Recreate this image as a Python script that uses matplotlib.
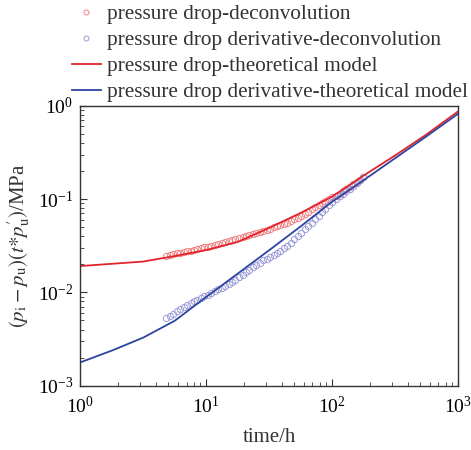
import matplotlib
matplotlib.use("Agg")
import matplotlib.pyplot as plt
from matplotlib.ticker import LogLocator, NullFormatter

plt.rcParams['font.family'] = ['Liberation Serif', 'DejaVu Serif']
plt.rcParams['mathtext.fontset'] = 'stix'

# deconvolution points (time in h, pressure in MPa)
t_dec = [4.83, 5.15, 5.48, 5.84, 6.22, 6.63, 7.06, 7.52, 8.02, 8.54,
         9.10, 9.69, 10.3, 11.0, 11.7, 12.5, 13.3, 14.2, 15.1, 16.1,
         17.1, 18.3, 19.5, 20.7, 22.1, 23.5, 25.1, 26.7, 28.4, 30.3,
         32.3, 34.4, 36.6, 39.0, 41.6, 44.3, 47.2, 50.3, 53.6, 57.1,
         60.8, 64.8, 69.0, 73.5, 78.3, 83.5, 88.9, 94.7, 101, 108,
         115, 122, 130, 139, 148, 157, 167, 178]
dp_dec = [0.02483, 0.02531, 0.02582, 0.02624, 0.02667, 0.02710, 0.02754, 0.02805, 0.02858, 0.02911,
          0.02972, 0.03027, 0.03083, 0.03141, 0.03221, 0.03304, 0.03388, 0.03473, 0.03565, 0.03656,
          0.03750, 0.03842, 0.03945, 0.04046, 0.04150, 0.04253, 0.04365, 0.04477, 0.04587, 0.04710,
          0.04831, 0.04955, 0.05093, 0.05260, 0.05425, 0.05598, 0.05813, 0.06039, 0.06270, 0.06546,
          0.06934, 0.07328, 0.07762, 0.08185, 0.08610, 0.09057, 0.09528, 0.09966, 0.1042, 0.1089,
          0.1143, 0.1211, 0.1282, 0.1355, 0.1435, 0.1521, 0.1610, 0.1702]
dd_dec = [0.005248, 0.005559, 0.005888, 0.006237, 0.006607, 0.006989, 0.007396, 0.007709, 0.008034, 0.008375,
          0.008726, 0.009095, 0.009475, 0.009874, 0.01031, 0.01078, 0.01126, 0.01178, 0.01240, 0.01303,
          0.01372, 0.01450, 0.01545, 0.01646, 0.01754, 0.01859, 0.01968, 0.02084, 0.02203, 0.02301,
          0.02405, 0.02515, 0.02645, 0.02801, 0.02966, 0.03140, 0.03397, 0.03690, 0.04006, 0.04348,
          0.04723, 0.05129, 0.05567, 0.06068, 0.06630, 0.07245, 0.07914, 0.08545, 0.09222, 0.09950,
          0.1069, 0.1139, 0.1213, 0.1293, 0.1383, 0.1483, 0.1590, 0.1704]

# theoretical model
t_mod = [1, 1.78, 3.16, 5.62, 10, 17.8, 31.6, 56.2, 100, 178, 316, 562, 1000]
dp_mod = [0.01914, 0.02023, 0.02138, 0.02449, 0.02838, 0.03467, 0.04898, 0.07079,
          0.1059, 0.1778, 0.2917, 0.4898, 0.8630]
dd_mod = [0.001778, 0.002377, 0.003273, 0.004955, 0.008913, 0.01585, 0.02818, 0.05070,
          0.09333, 0.1585, 0.2723, 0.4677, 0.8147]

fig = plt.figure(figsize=(4.71, 4.5), dpi=100)
ax = fig.add_axes([0.1705, 0.1429, 0.8013, 0.6222])

ax.plot(t_dec, dp_dec, 'o', ms=4.5, mfc='none', mec='#f08080', mew=0.7,
        label='pressure drop-deconvolution')
ax.plot(t_dec, dd_dec, 'o', ms=4.5, mfc='none', mec='#9a9ad8', mew=0.7,
        label='pressure drop derivative-deconvolution')
ax.plot(t_mod, dp_mod, '-', color='#e3232c', lw=1.3,
        label='pressure drop-theoretical model')
ax.plot(t_mod, dd_mod, '-', color='#2b44a0', lw=1.3,
        label='pressure drop derivative-theoretical model')

ax.set_xscale('log')
ax.set_yscale('log')
ax.set_xlim(1, 1000)
ax.set_ylim(1e-3, 1)
ax.xaxis.set_minor_locator(LogLocator(base=10, subs=range(2, 10), numticks=20))
ax.yaxis.set_minor_locator(LogLocator(base=10, subs=range(2, 10), numticks=20))
ax.xaxis.set_minor_formatter(NullFormatter())
ax.yaxis.set_minor_formatter(NullFormatter())
ax.tick_params(which='both', direction='in', top=False, right=False, labelsize=14, color='#333333')
ax.tick_params(which='major', length=5)
ax.tick_params(which='minor', length=3)
ax.tick_params(axis='x', which='major', pad=7)
ax.tick_params(axis='y', which='major', pad=5)
for s in ax.spines.values():
    s.set_linewidth(1.0)
    s.set_color('#333333')

ax.set_xlabel('time/h', fontsize=15, color='#333333', labelpad=8)
ax.set_ylabel(r'$(p_{\rm i}-p_{\rm u})(t{*}p^{\prime}_{\rm u})$/MPa', fontsize=15, color='#333333')

leg = ax.legend(loc='upper left', bbox_to_anchor=(0.153, 0.99), bbox_transform=fig.transFigure,
                frameon=False, fontsize=15.3, handlelength=1.35, handletextpad=0.3,
                labelspacing=0.29, borderaxespad=0, borderpad=0, markerscale=0.8)
for txt in leg.get_texts():
    txt.set_color('#333333')

fig.savefig('out.png', dpi=100)
